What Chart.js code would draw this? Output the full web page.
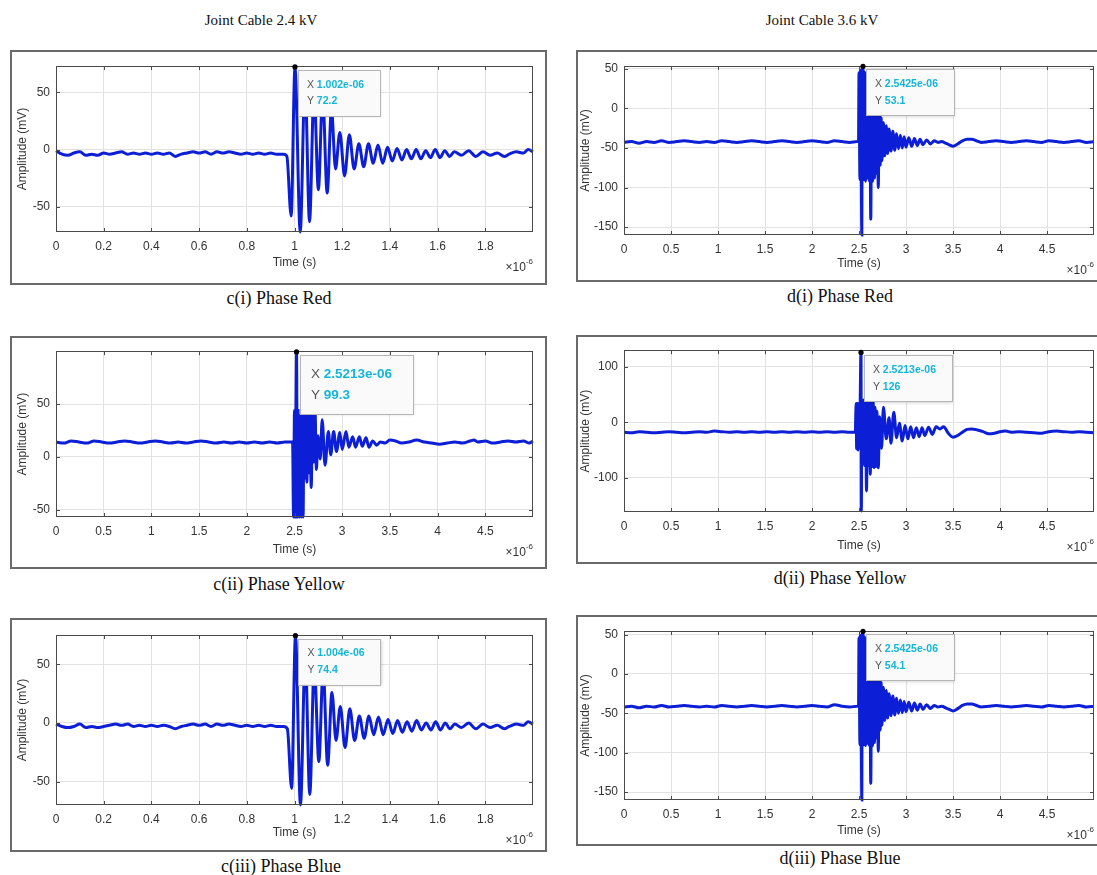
<!DOCTYPE html>
<html>
<head>
<meta charset="utf-8">
<script src="https://cdn.jsdelivr.net/npm/chart.js@4.4.0/dist/chart.umd.min.js"></script>
<style>
  body { margin: 0; width: 1097px; height: 875px; overflow: hidden; background: #fff; position: relative; }
  .panel { position: absolute; border: 2px solid #6a6a6a; background: #fff; }
  .panel canvas { display: block; }
  .label { position: absolute; transform: translate(-50%, -50%); white-space: nowrap; color: #111;
           font-family: "Liberation Serif", "Times New Roman", serif; }
</style>
</head>
<body>
<script>
// waveforms: [time (us), amplitude (mV)]
const red24 = [[0,-1],[0.025,-4],[0.05,-5],[0.075,-3],[0.1,-2],[0.125,-5],[0.15,-4],[0.175,-5],[0.2,-3],[0.225,-4],[0.25,-3],[0.275,-2],[0.3,-4],[0.325,-3],[0.35,-4],[0.375,-3],[0.4,-4],[0.425,-3],[0.45,-4],[0.475,-3],[0.5,-6],[0.525,-4],[0.55,-3],[0.575,-2],[0.6,-3],[0.625,-2],[0.65,-4],[0.675,-2],[0.7,-3],[0.725,-2],[0.75,-3],[0.775,-4],[0.8,-3],[0.825,-4],[0.85,-3],[0.875,-4],[0.9,-3],[0.925,-4],[0.955,-4],
  [0.968,-6],[0.986,-58],[1.002,72.2],[1.024,-72],[1.044,60],[1.063,-63],[1.082,52],[1.1,-35],[1.118,48],[1.137,-38],[1.155,35],[1.172,-17],[1.19,15],[1.21,-23],[1.23,13],[1.25,-17],[1.27,5],[1.29,-15],[1.31,5],[1.33,-12],[1.35,4],[1.37,-12],[1.39,2],[1.41,-10],[1.43,1],[1.45,-9],[1.47,0],[1.49,-8],[1.51,0],[1.53,-8],[1.55,-1],[1.57,-7],[1.59,0],[1.61,-7],[1.63,-1],[1.65,-6],[1.67,-2],[1.7,-5],[1.73,-1],[1.76,-6],[1.79,-2],[1.82,-5],[1.85,-3],[1.88,-6],[1.9,-4],[1.93,-2],[1.96,-3],[1.98,0],[2.0,-2]];

const yellow24 = [[0,14],[0.08,13],[0.16,15],[0.24,14],[0.32,13],[0.4,15],[0.48,14],[0.56,13],[0.64,14],[0.72,15],[0.8,14],[0.88,13],[0.96,14],[1.04,15],[1.12,14],[1.2,13],[1.28,14],[1.36,13],[1.44,14],[1.52,15],[1.6,14],[1.68,13],[1.76,14],[1.84,13],[1.92,14],[2.0,13],[2.08,14],[2.16,13],[2.24,14],[2.32,13],[2.4,14],[2.48,14],
  [2.49,-57],[2.5,44],[2.505,-57],[2.515,44],[2.5213,99.3],[2.53,-57],[2.54,44],[2.55,-57],[2.56,44],[2.57,-57],[2.58,44],[2.59,-57],[2.6,44],[2.61,-20],[2.62,44],[2.63,-24],[2.64,44],[2.65,-15],[2.66,44],[2.675,-29],[2.69,44],[2.7,-5],[2.715,44],[2.73,-12],[2.745,20],[2.77,-2],[2.79,35],[2.82,-8],[2.855,24],[2.88,2],[2.91,24],[2.94,5],[2.975,23],[3.0,7],[3.04,24],[3.07,9],[3.11,19],[3.14,9],[3.18,19],[3.21,10],[3.25,18],[3.28,9],[3.32,15],[3.36,11],[3.4,14],[3.45,13],[3.5,16],[3.56,15],[3.62,13],[3.7,14],[3.78,16],[3.86,14],[3.94,13],[4.02,12],[4.1,13],[4.18,14],[4.26,13],[4.34,15],[4.38,16],[4.42,14],[4.5,15],[4.58,13],[4.66,14],[4.74,15],[4.82,14],[4.9,15],[4.96,13],[5.0,15]];

const blue24 = [[0,-1],[0.025,-3],[0.05,-4],[0.075,-3],[0.1,-1],[0.125,-4],[0.15,-3],[0.175,-4],[0.2,-3],[0.225,-2],[0.25,-1],[0.275,-2],[0.3,-1],[0.325,-3],[0.35,-2],[0.375,-3],[0.4,-2],[0.425,-3],[0.45,-2],[0.475,-3],[0.5,-5],[0.525,-3],[0.55,-2],[0.575,-1],[0.6,-2],[0.625,-1],[0.65,-3],[0.675,-1],[0.7,-2],[0.725,-1],[0.75,-2],[0.775,-3],[0.8,-2],[0.825,-3],[0.85,-2],[0.875,-3],[0.9,-2],[0.925,-3],[0.955,-3],
  [0.97,-5],[0.988,-56],[1.004,74.4],[1.025,-70],[1.045,58],[1.064,-61],[1.083,50],[1.102,-33],[1.12,46],[1.139,-36],[1.157,26],[1.174,-15],[1.192,14],[1.212,-21],[1.232,12],[1.252,-15],[1.272,6],[1.292,-13],[1.312,6],[1.332,-10],[1.352,5],[1.372,-10],[1.392,3],[1.412,-9],[1.432,2],[1.452,-8],[1.472,1],[1.492,-7],[1.512,2],[1.532,-6],[1.552,0],[1.572,-6],[1.592,1],[1.612,-6],[1.632,0],[1.652,-5],[1.672,-1],[1.7,-4],[1.73,0],[1.76,-5],[1.79,-1],[1.82,-4],[1.85,-2],[1.88,-5],[1.9,-3],[1.93,-1],[1.96,-2],[1.98,1],[2.0,-1]];

const red36 = [[0,-43],[0.08,-42],[0.16,-44],[0.24,-42],[0.32,-43],[0.4,-41],[0.48,-43],[0.56,-42],[0.64,-41],[0.72,-42],[0.8,-43],[0.88,-42],[0.96,-43],[1.04,-41],[1.12,-42],[1.2,-43],[1.28,-42],[1.36,-41],[1.44,-42],[1.52,-43],[1.6,-42],[1.68,-41],[1.76,-42],[1.84,-43],[1.92,-42],[2.0,-41],[2.08,-42],[2.16,-43],[2.24,-41],[2.32,-42],[2.4,-43],[2.48,-42],
  [2.495,-40],[2.5,45],[2.51,-90],[2.515,48],[2.525,-92],[2.53,-160],[2.535,45],[2.5425,53.1],[2.55,-90],[2.56,46],[2.57,-92],[2.58,44],[2.59,-88],[2.6,40],[2.61,-92],[2.615,32],[2.625,-140],[2.635,26],[2.645,-92],[2.655,20],[2.665,-88],[2.675,12],[2.685,-82],[2.695,4],[2.705,-100],[2.715,-4],[2.725,-72],[2.735,-12],[2.745,-66],[2.76,-18],[2.775,-60],[2.79,-22],[2.805,-57],[2.82,-26],[2.84,-54],[2.86,-29],[2.88,-53],[2.9,-32],[2.92,-51],[2.94,-34],[2.96,-50],[2.98,-36],[3.0,-49],[3.03,-37],[3.06,-48],[3.09,-38],[3.12,-47],[3.15,-39],[3.18,-46],[3.22,-40],[3.26,-45],[3.3,-41],[3.34,-43],[3.38,-42],[3.42,-44],[3.46,-46],[3.5,-48],[3.55,-45],[3.6,-41],[3.65,-39],[3.7,-39],[3.75,-41],[3.8,-43],[3.88,-42],[3.96,-41],[4.04,-42],[4.12,-43],[4.2,-42],[4.28,-41],[4.36,-42],[4.44,-43],[4.52,-41],[4.6,-42],[4.68,-43],[4.76,-42],[4.84,-41],[4.92,-43],[5.0,-42]];

const yellow36 = [[0,-18],[0.08,-19],[0.16,-17],[0.24,-18],[0.32,-19],[0.4,-18],[0.48,-17],[0.56,-18],[0.64,-19],[0.72,-18],[0.8,-17],[0.88,-18],[0.96,-16],[1.04,-17],[1.12,-18],[1.2,-17],[1.28,-18],[1.36,-17],[1.44,-18],[1.52,-17],[1.6,-18],[1.68,-17],[1.76,-18],[1.84,-17],[1.92,-18],[2.0,-17],[2.08,-18],[2.16,-17],[2.24,-18],[2.32,-17],[2.4,-18],[2.46,-18],
  [2.47,34],[2.475,-48],[2.485,34],[2.49,-50],[2.5,34],[2.505,-46],[2.5213,126],[2.525,-160],[2.53,40],[2.54,-75],[2.55,40],[2.56,-78],[2.57,40],[2.58,-124],[2.59,40],[2.6,-78],[2.61,38],[2.62,-94],[2.63,38],[2.64,-80],[2.65,38],[2.66,-82],[2.67,27],[2.68,-80],[2.69,20],[2.705,-82],[2.72,10],[2.74,-47],[2.76,27],[2.79,-30],[2.82,8],[2.84,-38],[2.87,18],[2.9,-28],[2.93,-2],[2.96,-34],[2.99,-6],[3.02,-30],[3.05,-8],[3.08,-28],[3.11,-10],[3.14,-26],[3.17,-10],[3.2,-24],[3.24,-9],[3.28,-22],[3.32,-8],[3.36,-12],[3.4,-8],[3.45,-20],[3.5,-27],[3.55,-24],[3.6,-18],[3.65,-13],[3.7,-12],[3.76,-14],[3.82,-17],[3.88,-21],[3.94,-20],[4.0,-17],[4.06,-16],[4.12,-18],[4.2,-17],[4.28,-18],[4.36,-19],[4.44,-20],[4.52,-17],[4.6,-16],[4.68,-17],[4.76,-18],[4.84,-17],[4.92,-18],[5.0,-19]];

const blue36 = [[0,-42],[0.08,-41],[0.16,-43],[0.24,-41],[0.32,-42],[0.4,-40],[0.48,-42],[0.56,-41],[0.64,-40],[0.72,-41],[0.8,-42],[0.88,-41],[0.96,-42],[1.04,-40],[1.12,-41],[1.2,-42],[1.28,-41],[1.36,-40],[1.44,-41],[1.52,-42],[1.6,-41],[1.68,-40],[1.76,-41],[1.84,-42],[1.92,-41],[2.0,-40],[2.08,-41],[2.16,-42],[2.24,-39],[2.32,-41],[2.4,-42],[2.48,-41],
  [2.495,-39],[2.5,46],[2.51,-90],[2.515,49],[2.525,-91],[2.53,-160],[2.535,46],[2.5425,54.1],[2.55,-90],[2.56,47],[2.57,-91],[2.58,45],[2.59,-88],[2.6,41],[2.61,-91],[2.615,33],[2.625,-139],[2.635,27],[2.645,-91],[2.655,21],[2.665,-87],[2.675,13],[2.685,-81],[2.695,5],[2.705,-98],[2.715,-3],[2.725,-71],[2.735,-11],[2.745,-65],[2.76,-17],[2.775,-59],[2.79,-21],[2.805,-56],[2.82,-25],[2.84,-53],[2.86,-28],[2.88,-52],[2.9,-31],[2.92,-50],[2.94,-33],[2.96,-49],[2.98,-35],[3.0,-48],[3.03,-36],[3.06,-47],[3.09,-37],[3.12,-46],[3.15,-38],[3.18,-45],[3.22,-39],[3.26,-44],[3.3,-40],[3.34,-42],[3.38,-41],[3.42,-43],[3.46,-45],[3.5,-47],[3.55,-44],[3.6,-40],[3.65,-38],[3.7,-38],[3.75,-40],[3.8,-42],[3.88,-41],[3.96,-40],[4.04,-41],[4.12,-42],[4.2,-41],[4.28,-40],[4.36,-41],[4.44,-42],[4.52,-40],[4.6,-41],[4.68,-42],[4.76,-41],[4.84,-40],[4.92,-42],[5.0,-41]];

// datatips: [time (us), amplitude, X text, Y text]
const tipRed24 = [1.002, 72.2, '1.002e-06', '72.2'];
const tipYellow24 = [2.5213, 99.3, '2.5213e-06', '99.3'];
const tipBlue24 = [1.004, 74.4, '1.004e-06', '74.4'];
const tipRed36 = [2.5425, 53.1, '2.5425e-06', '53.1'];
const tipYellow36 = [2.5213, 126, '2.5213e-06', '126'];
const tipBlue36 = [2.5425, 54.1, '2.5425e-06', '54.1'];

// ticks
const xTicks2us = [0, 0.2, 0.4, 0.6, 0.8, 1, 1.2, 1.4, 1.6, 1.8];
const xTicks5us = [0, 0.5, 1, 1.5, 2, 2.5, 3, 3.5, 4, 4.5];
const yTicks50 = [-50, 0, 50];
const yTicks36 = [-150, -100, -50, 0, 50];
const yTicks100 = [-100, 0, 100];

const columnTitles = ['Joint Cable 2.4 kV', 'Joint Cable 3.6 kV'];

const waveColor = '#0c1fd6';
const axisFont = { family: 'Liberation Sans', size: 12 };

// panel geometry: box [left, top, width, height], plot [left, top, right, bottom]
const panels = [
  { data: red24, tip: tipRed24, xMax: 2, yMin: -72, yMax: 73, xTicks: xTicks2us, yTicks: yTicks50,
    caption: 'c(i) Phase Red', box: [10, 50, 537, 235], plot: [56, 66, 533, 232], cap: [279, 298], tipFont: 10.5, yTitleX: 22, xTitleY: 263 },
  { data: red36, tip: tipRed36, xMax: 5, yMin: -160, yMax: 53.5, xTicks: xTicks5us, yTicks: yTicks36,
    caption: 'd(i) Phase Red', box: [576, 50, 530, 232], plot: [624, 66, 1094, 235], cap: [840, 296], tipFont: 10.5, yTitleX: 585, xTitleY: 264 },
  { data: yellow24, tip: tipYellow24, xMax: 5, yMin: -57, yMax: 100, xTicks: xTicks5us, yTicks: yTicks50,
    caption: 'c(ii) Phase Yellow', box: [10, 336, 537, 233], plot: [56, 347, 533, 517], cap: [279, 584], tipFont: 13.5, yTitleX: 22, xTitleY: 550 },
  { data: yellow36, tip: tipYellow36, xMax: 5, yMin: -162, yMax: 130, xTicks: xTicks5us, yTicks: yTicks100,
    caption: 'd(ii) Phase Yellow', box: [576, 335, 530, 229], plot: [624, 346, 1094, 512], cap: [840, 578], tipFont: 10.5, yTitleX: 585, xTitleY: 546 },
  { data: blue24, tip: tipBlue24, xMax: 2, yMin: -70, yMax: 75, xTicks: xTicks2us, yTicks: yTicks50,
    caption: 'c(iii) Phase Blue', box: [10, 618, 537, 234], plot: [56, 635, 533, 805], cap: [281, 866], tipFont: 10.5, yTitleX: 22, xTitleY: 833 },
  { data: blue36, tip: tipBlue36, xMax: 5, yMin: -160, yMax: 54.5, xTicks: xTicks5us, yTicks: yTicks36,
    caption: 'd(iii) Phase Blue', box: [576, 615, 530, 231], plot: [624, 631, 1094, 800], cap: [840, 858], tipFont: 10.5, yTitleX: 585, xTitleY: 831 }
];

// axes box, inward ticks, datatip and the x10^-6 exponent, MATLAB style
const matlabAxes = {
  id: 'matlabAxes',
  afterDatasetsDraw(chart, args, opts) {
    const { ctx, chartArea: a, scales: { x, y } } = chart;
    ctx.save();
    ctx.strokeStyle = '#4a4a4a';
    ctx.lineWidth = 1;
    ctx.strokeRect(Math.round(a.left) + 0.5, Math.round(a.top) + 0.5, Math.round(a.width) - 1, Math.round(a.height) - 1);
    ctx.beginPath();
    x.ticks.forEach(t => {
      const px = Math.round(x.getPixelForValue(t.value)) + 0.5;
      ctx.moveTo(px, a.bottom); ctx.lineTo(px, a.bottom - 4);
      ctx.moveTo(px, a.top); ctx.lineTo(px, a.top + 4);
    });
    y.ticks.forEach(t => {
      const py = Math.round(y.getPixelForValue(t.value)) + 0.5;
      ctx.moveTo(a.left, py); ctx.lineTo(a.left + 4, py);
      ctx.moveTo(a.right, py); ctx.lineTo(a.right - 4, py);
    });
    ctx.stroke();

    // datatip
    const [tt, ta, xs, ys] = opts.tip;
    const fs = opts.font;
    const px = x.getPixelForValue(tt), py = y.getPixelForValue(ta);
    ctx.font = `${fs}px Liberation Sans`;
    const wX = ctx.measureText('X ').width;
    ctx.font = `bold ${fs}px Liberation Sans`;
    const wv = Math.max(ctx.measureText(xs).width, ctx.measureText(ys).width);
    const bx = px + 3, by = py + 3;
    const bw = wX + wv + fs * 2.4, bh = fs * 4.4;
    ctx.shadowColor = 'rgba(0,0,0,0.18)';
    ctx.shadowBlur = 3;
    ctx.shadowOffsetX = 1; ctx.shadowOffsetY = 1;
    ctx.fillStyle = '#fafafa';
    ctx.fillRect(bx, by, bw, bh);
    ctx.shadowColor = 'transparent';
    ctx.strokeStyle = '#b5b5b5';
    ctx.strokeRect(Math.round(bx) + 0.5, Math.round(by) + 0.5, Math.round(bw), Math.round(bh));
    ctx.textBaseline = 'middle';
    ctx.textAlign = 'left';
    const tx = bx + fs * 0.85;
    const l1 = by + fs * 1.4, l2 = l1 + fs * 1.6;
    ctx.font = `${fs}px Liberation Sans`;
    ctx.fillStyle = '#555';
    ctx.fillText('X', tx, l1);
    ctx.fillText('Y', tx, l2);
    ctx.font = `bold ${fs}px Liberation Sans`;
    ctx.fillStyle = '#14b6d8';
    ctx.fillText(xs, tx + wX, l1);
    ctx.fillText(ys, tx + wX, l2);
    ctx.fillStyle = '#000';
    ctx.beginPath();
    ctx.arc(px, py, 2.6, 0, Math.PI * 2);
    ctx.fill();

    // x10^-6
    ctx.fillStyle = '#333';
    ctx.textBaseline = 'alphabetic';
    ctx.textAlign = 'right';
    ctx.font = '8px Liberation Sans';
    const ey = a.bottom + 39;
    ctx.fillText('-6', a.right, ey - 7);
    const we = ctx.measureText('-6').width;
    ctx.font = '12px Liberation Sans';
    ctx.fillText('\u00d710', a.right - we, ey);
    ctx.restore();
  }
};

function addLabel(text, cx, cy, size) {
  const el = document.createElement('div');
  el.className = 'label';
  el.textContent = text;
  el.style.left = cx + 'px';
  el.style.top = cy + 'px';
  el.style.fontSize = size + 'px';
  document.body.appendChild(el);
}

addLabel(columnTitles[0], 261, 20, 15);
addLabel(columnTitles[1], 822, 20, 15);

panels.forEach(p => {
  const [bl, bt, bw, bh] = p.box;
  const cw = bw - 4, ch = bh - 4;
  const div = document.createElement('div');
  div.className = 'panel';
  div.style.left = bl + 'px';
  div.style.top = bt + 'px';
  div.style.width = cw + 'px';
  div.style.height = ch + 'px';
  const canvas = document.createElement('canvas');
  canvas.width = cw; canvas.height = ch;
  canvas.style.width = cw + 'px'; canvas.style.height = ch + 'px';
  div.appendChild(canvas);
  document.body.appendChild(div);
  addLabel(p.caption, p.cap[0], p.cap[1], 18);

  const il = bl + 2, it = bt + 2;
  const yW = p.plot[0] - il;
  const padTop = p.plot[1] - it;
  const padRight = il + cw - p.plot[2];
  const xH = it + ch - p.plot[3];
  const yTitlePad = Math.max(0, p.yTitleX - il - 7);
  const xTitlePad = Math.max(0, it + ch - p.xTitleY - 7);

  new Chart(canvas, {
    type: 'line',
    data: {
      datasets: [{
        data: p.data.map(([t, a]) => ({ x: t, y: a })),
        borderColor: waveColor,
        borderWidth: 3,
        pointRadius: 0,
        cubicInterpolationMode: 'monotone',
        fill: false,
        clip: 2
      }]
    },
    options: {
      responsive: false,
      animation: false,
      events: [],
      layout: { padding: { left: 0, top: padTop, right: padRight, bottom: 0 } },
      plugins: {
        legend: { display: false },
        tooltip: { enabled: false },
        matlabAxes: { tip: p.tip, font: p.tipFont }
      },
      scales: {
        x: {
          type: 'linear',
          min: 0,
          max: p.xMax,
          afterBuildTicks: s => { s.ticks = p.xTicks.map(v => ({ value: v })); },
          afterFit: s => { s.height = xH; },
          grid: { color: '#e2e2e2', drawTicks: false },
          border: { display: false },
          ticks: { padding: 7, color: '#333', font: axisFont, maxRotation: 0, autoSkip: false, callback: v => String(v) },
          title: { display: true, text: 'Time (s)', color: '#333', font: axisFont, padding: { top: 0, bottom: xTitlePad } }
        },
        y: {
          type: 'linear',
          min: p.yMin,
          max: p.yMax,
          afterBuildTicks: s => { s.ticks = p.yTicks.map(v => ({ value: v })); },
          afterFit: s => { s.width = yW; },
          grid: { color: '#e2e2e2', drawTicks: false },
          border: { display: false },
          ticks: { padding: 6, color: '#333', font: axisFont, autoSkip: false, callback: v => String(v) },
          title: { display: true, text: 'Amplitude (mV)', color: '#333', font: axisFont, padding: { top: yTitlePad, bottom: 0 } }
        }
      }
    },
    plugins: [matlabAxes]
  });
});
</script>
</body>
</html>
